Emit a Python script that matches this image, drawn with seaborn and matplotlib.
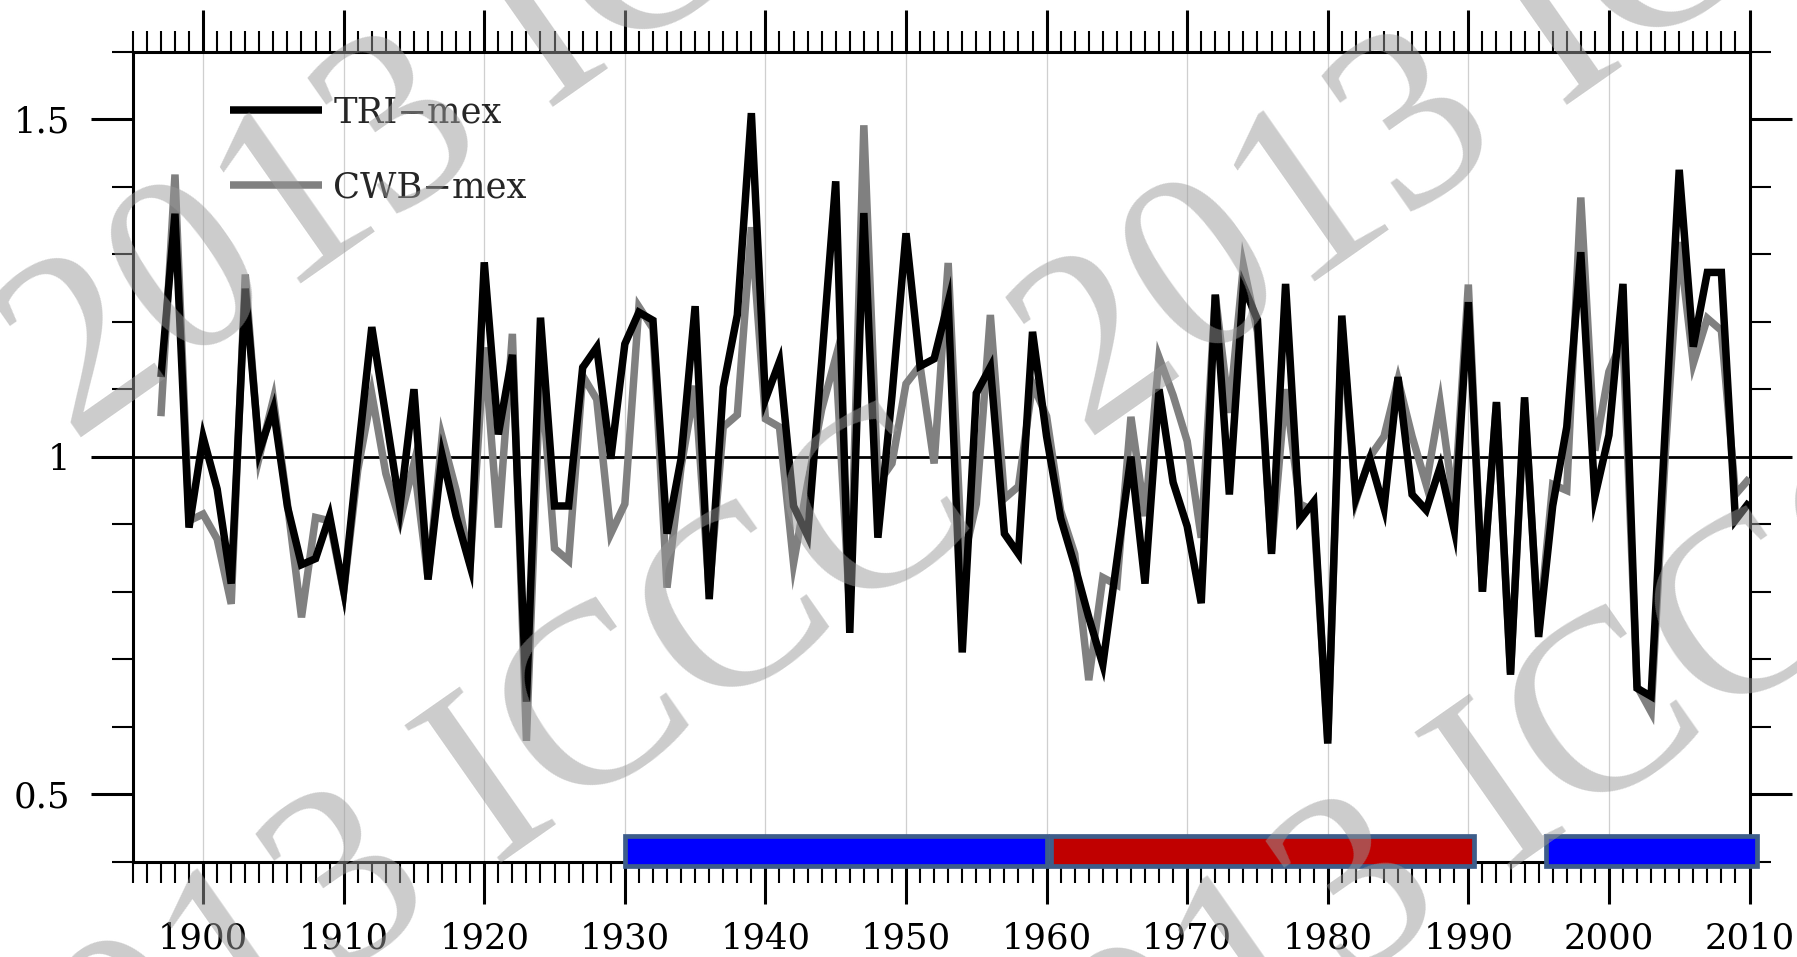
import numpy as np
import matplotlib
matplotlib.use("Agg")
import matplotlib.pyplot as plt
from matplotlib.ticker import MultipleLocator, FixedLocator, FuncFormatter
import seaborn as sns

# ---- data -------------------------------------------------------------
years = np.arange(1897, 2011)

tri_mex = [
    1.118, 1.360, 0.895, 1.029, 0.952, 0.812, 1.249, 1.008, 1.071, 0.926,  # 1897-1906
    0.840, 0.849, 0.912, 0.802, 1.000, 1.192, 1.060, 0.925, 1.100, 0.818,  # 1907-1916
    1.002, 0.912, 0.838, 1.288, 1.033, 1.151, 0.637, 1.206, 0.927, 0.927,  # 1917-1926
    1.132, 1.162, 0.997, 1.167, 1.214, 1.202, 0.886, 0.997, 1.223, 0.789,  # 1927-1936
    1.103, 1.210, 1.509, 1.085, 1.141, 0.927, 0.883, 1.140, 1.408, 0.739,  # 1937-1946
    1.361, 0.880, 1.090, 1.331, 1.134, 1.145, 1.229, 0.710, 1.094, 1.133,  # 1947-1956
    0.886, 0.856, 1.185, 1.030, 0.909, 0.839, 0.762, 0.692, 0.846, 1.000,  # 1957-1966
    0.812, 1.100, 0.962, 0.897, 0.783, 1.240, 0.944, 1.253, 1.203, 0.856,  # 1967-1976
    1.256, 0.906, 0.933, 0.575, 1.209, 0.938, 0.997, 0.924, 1.118, 0.944,  # 1977-1986
    0.921, 0.985, 0.891, 1.229, 0.800, 1.081, 0.677, 1.088, 0.733, 0.927,  # 1987-1996
    1.044, 1.303, 0.941, 1.032, 1.256, 0.657, 0.645, 1.040, 1.425, 1.163,  # 1997-2006
    1.273, 1.273, 0.906, 0.933,                                            # 2007-2010
]

cwb_mex = [
    1.060, 1.418, 0.905, 0.915, 0.878, 0.782, 1.270, 1.000, 1.085, 0.930,  # 1897-1906
    0.762, 0.910, 0.905, 0.800, 0.980, 1.093, 0.975, 0.905, 0.990, 0.820,  # 1907-1916
    1.029, 0.950, 0.840, 1.162, 0.895, 1.182, 0.579, 1.135, 0.864, 0.846,  # 1917-1926
    1.120, 1.085, 0.886, 0.930, 1.222, 1.190, 0.806, 0.985, 1.105, 0.800,  # 1927-1936
    1.044, 1.062, 1.340, 1.056, 1.044, 0.842, 0.960, 1.070, 1.147, 0.770,  # 1937-1946
    1.491, 0.960, 0.990, 1.108, 1.135, 0.990, 1.287, 0.840, 0.930, 1.210,  # 1947-1956
    0.938, 0.956, 1.108, 1.060, 0.920, 0.856, 0.669, 0.821, 0.810, 1.059,  # 1957-1966
    0.912, 1.147, 1.091, 1.023, 0.880, 1.240, 1.065, 1.283, 1.185, 0.860,  # 1967-1976
    1.100, 0.930, 0.920, 0.580, 1.190, 0.935, 1.000, 1.030, 1.114, 1.030,  # 1977-1986
    0.959, 1.079, 0.927, 1.255, 0.800, 1.080, 0.680, 1.080, 0.740, 0.959,  # 1987-1996
    0.950, 1.384, 1.009, 1.126, 1.175, 0.660, 0.622, 1.000, 1.318, 1.138,  # 1997-2006
    1.205, 1.187, 0.944, 0.968,                                            # 2007-2010
]

series_labels = ["TRI\u2212mex", "CWB\u2212mex"]

# regime periods shown as coloured bars along the bottom
period_start = [1930.0, 1960.3, 1995.5]
period_end = [1960.0, 1990.4, 2010.5]
period_color = ["#0000ff", "#c00000", "#0000ff"]

y_major = [0.5, 1.0, 1.5]
watermark_text = "2013 ICCC"

# ---- style ------------------------------------------------------------
sns.set_style("ticks")
plt.rcParams["font.family"] = ["DejaVu Serif"]

W, H = 1797, 957
fig = plt.figure(figsize=(W / 100, H / 100), dpi=100)
ax = fig.add_axes([132.8 / W, 1 - 861.7 / H, (1749.5 - 132.8) / W, 810.0 / H])

# ---- series -----------------------------------------------------------
sns.lineplot(x=years, y=cwb_mex, ax=ax, color="#808080", linewidth=5.4,
             label=series_labels[1], zorder=3)
sns.lineplot(x=years, y=tri_mex, ax=ax, color="black", linewidth=5.4,
             label=series_labels[0], zorder=4)
for ln in ax.lines:
    ln.set_solid_joinstyle("miter")
    ln.set_solid_capstyle("butt")

ax.axhline(1.0, color="black", linewidth=2.0, zorder=2)

# ---- regime bars ------------------------------------------------------
widths = np.array(period_end) - np.array(period_start)
ax.barh(y=0.4158, width=widths, left=period_start, height=0.0437,
        color=period_color, edgecolor="#3d5d8a", linewidth=3.4,
        clip_on=False, zorder=6)

# ---- axes -------------------------------------------------------------
ax.set_xlim(1895, 2010)
ax.set_ylim(0.4, 1.6)
ax.xaxis.set_major_locator(MultipleLocator(10))
ax.xaxis.set_minor_locator(MultipleLocator(1))
ax.yaxis.set_major_locator(FixedLocator(y_major))
ax.yaxis.set_minor_locator(MultipleLocator(0.1))
ax.yaxis.set_major_formatter(FuncFormatter(lambda v, p: f"{v:g}"))
ax.set_xlabel("")
ax.set_ylabel("")

ax.grid(axis="x", which="major", color="#cfcfcf", linewidth=0.9, zorder=1)
ax.set_axisbelow(True)

for s in ax.spines.values():
    s.set_visible(True)
    s.set_linewidth(2.2)
    s.set_color("black")

ax.tick_params(axis="both", which="major", direction="out", length=30,
               width=2.2, labelsize=25.5, top=True, right=True,
               labeltop=False, labelright=False, colors="black")
ax.tick_params(axis="both", which="minor", direction="out", length=15,
               width=1.5, top=True, right=True, colors="black")
ax.tick_params(axis="x", which="major", pad=13)
ax.tick_params(axis="y", which="major", pad=15)

# ---- legend -----------------------------------------------------------
h = {ln.get_label(): ln for ln in ax.lines}
ax.legend([h[series_labels[0]], h[series_labels[1]]], series_labels,
          loc="center left", bbox_to_anchor=(0.0599, 0.8786),
          frameon=False, fontsize=25.5, handlelength=2.6, handletextpad=0.33,
          labelspacing=1.14, borderpad=0, borderaxespad=0)

# ---- watermark --------------------------------------------------------
for (px, py) in [(72, 444), (1086, 442), (20, 1200), (1030, 1207)]:
    fig.text(px / W, 1 - py / H, watermark_text, rotation=35,
             rotation_mode="anchor", ha="left", va="baseline",
             fontsize=185, family="Liberation Serif", color="#9a9a9a",
             alpha=0.5, zorder=20)

fig.savefig("out.png", dpi=100)
